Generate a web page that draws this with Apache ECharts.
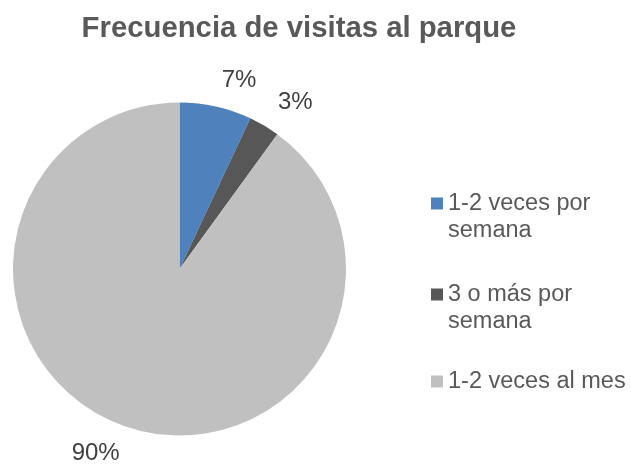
<!DOCTYPE html>
<html>
<head>
<meta charset="utf-8">
<script src="https://cdn.jsdelivr.net/npm/echarts@6/dist/echarts.min.js"></script>
<style>
    html, body { margin: 0; padding: 0; background: #fff; }
    #chart { width: 631px; height: 464px; }
</style>
</head>
<body>
<div id="chart"></div>
<script>
    // datos
    const categories = ['1-2 veces por semana', '3 o más por semana', '1-2 veces al mes']
    const values = [7, 3, 90]
    const colors = ['#4f81bd', '#575757', '#c0c0c0']

    const font = 'Arial, "Liberation Sans", sans-serif'

    // una leyenda por elemento, para colocar cada una como en Excel
    const legendTops = [163, 254, 368]
    const legends = categories.map((name, i) => {
        return {
            data: [name],
            orient: 'vertical',
            left: 431,
            top: legendTops[i],
            padding: 0,
            itemWidth: 12,
            itemHeight: 12,
            itemGap: 5,
            icon: 'rect',
            // línea vacía arriba: así el cuadro queda a la altura de la primera línea
            formatter: n => n.indexOf(' semana') > 0 ? ' \n' + n.replace(' semana', '\nsemana') : n,
            textStyle: {
                fontFamily: font,
                fontSize: 23.5,
                color: '#595959',
                lineHeight: 27
            }
        }
    })

    let myChart = echarts.init(document.getElementById('chart'))
    myChart.setOption({
        animation: false,
        title: {
            text: 'Frecuencia de visitas al parque',
            left: 294,
            textAlign: 'center',
            top: 9,
            textStyle: {
                fontFamily: font,
                fontSize: 29.3,
                fontWeight: 'bold',
                color: '#595959'
            }
        },
        color: colors,
        legend: legends,
        series: [
            {
                type: 'pie',
                center: [179.5, 269],
                radius: 166.5,
                startAngle: 90,
                clockwise: true,
                avoidLabelOverlap: false,
                data: categories.map((name, i) => ({name: name, value: values[i]})),
                label: {
                    show: true,
                    position: 'outside',
                    formatter: '{d}%',
                    fontFamily: font,
                    fontSize: 24,
                    color: '#404040',
                    distanceToLabelLine: 0
                },
                labelLine: {
                    show: false,
                    length: 27,
                    length2: 0
                },
                itemStyle: {
                    borderWidth: 0
                },
                emphasis: {
                    disabled: true
                }
            }
        ]
    })
</script>
</body>
</html>
